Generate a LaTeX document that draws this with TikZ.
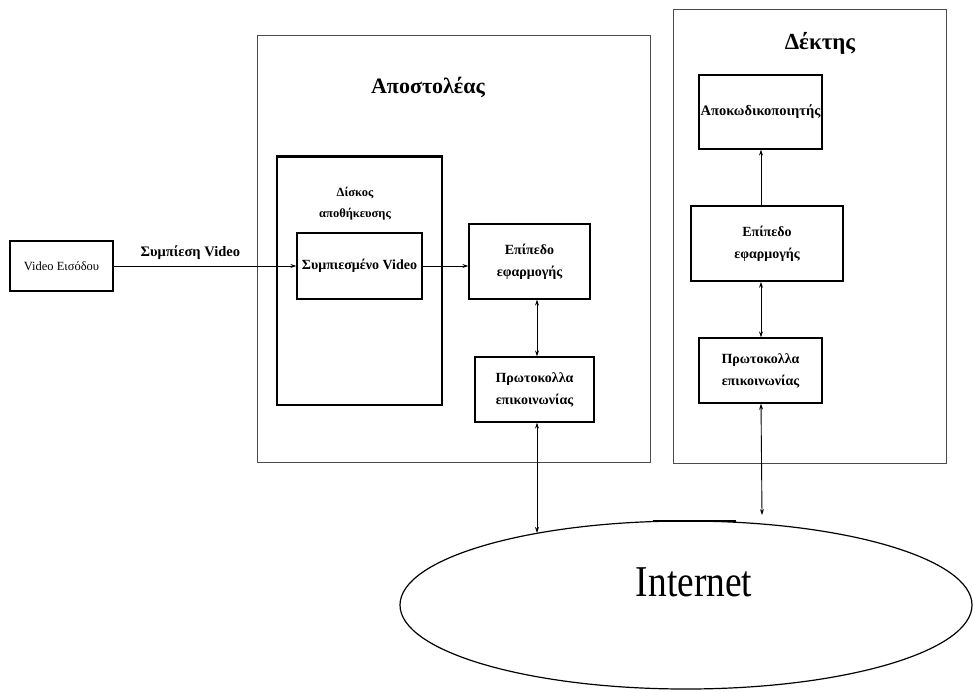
\documentclass[tikz,border=0pt]{standalone}
\usepackage{fontspec}
\setmainfont{Liberation Serif}
\usetikzlibrary{arrows.meta,shapes.geometric}
\begin{document}
\begin{tikzpicture}[x=1pt,y=-1pt,
  box/.style={draw=black,line width=1.3pt,rectangle,inner sep=0pt,align=center},
  frame/.style={draw=black!70,line width=1pt,rectangle,inner sep=0pt},
  lbl/.style={font=\fontsize{14}{22}\selectfont\bfseries,align=center},
  title/.style={font=\fontsize{22}{26}\selectfont\bfseries},
  tip/.tip={Stealth[length=6pt,width=4pt]},
  arr/.style={line width=0.9pt,-tip},
  conn/.style={line width=0.9pt,tip-tip}]
\useasboundingbox (0,0) rectangle (973,691);

% left input
\node[box, minimum width=103pt, minimum height=50pt, font=\fontsize{12.5}{15}\selectfont] (vin) at (61.5,266) {Video Εισόδου};

% sender
\node[frame, minimum width=393pt, minimum height=427pt] (snd) at (453.5,248.5) {};
\node[title] (sndt) at (428,87) {Αποστολέας};
\node[box, line width=1.1pt, minimum width=165pt, minimum height=248pt] (disk) at (359.5,281) {};
\draw[line width=2.6pt] (disk.north west) -- (disk.north east);
\node[lbl, font=\fontsize{12.5}{21}\selectfont\bfseries] (diskt) at (355,204) {Δίσκος\\αποθήκευσης};
\node[box, lbl, minimum width=125pt, minimum height=66pt] (comp) at (359.5,266) {Συμπιεσμένο Video};
\node[box, lbl, minimum width=121pt, minimum height=75pt] (app1) at (529.5,261.5) {Επίπεδο\\εφαρμογής};
\node[box, lbl, minimum width=119pt, minimum height=65pt] (proto1) at (534.5,389.5) {Πρωτοκολλα\\επικοινωνίας};

% receiver
\node[frame, minimum width=273pt, minimum height=454pt] (rcv) at (809.5,236) {};
\node[title, font=\fontsize{23}{26}\selectfont\bfseries] (rcvt) at (820,43) {Δέκτης};
\node[box, font=\fontsize{14.5}{17}\selectfont\bfseries, minimum width=123pt, minimum height=74pt] (dec) at (760.5,112) {Αποκωδικοποιητής};
\node[box, lbl, line width=1.8pt, minimum width=152pt, minimum height=75pt] (app2) at (767,243.5) {Επίπεδο\\εφαρμογής};
\node[box, lbl, minimum width=123pt, minimum height=65pt] (proto2) at (760.5,370.5) {Πρωτοκολλα\\επικοινωνίας};

% internet
\node[ellipse, draw=black, line width=1.2pt, inner sep=0pt, minimum width=572pt, minimum height=168pt] (inet) at (686,605) {};
\draw[line width=2.4pt] (653,521) -- (736,521);
\node[anchor=base, font=\fontsize{44}{50}\selectfont] (inett) at (694,596) {\scalebox{0.85}[1]{Internet}};

% helper coordinates
\coordinate (cs) at (537,0);
\coordinate (cr) at (761,0);
\coordinate (ns) at (537,533);
\coordinate (nr) at (762,515);

% connectors
\draw[arr] (vin.east) -- (comp.west)
  node[pos=0.42, anchor=south, yshift=3pt, font=\fontsize{14.5}{16}\selectfont\bfseries] (clbl) {Συμπίεση Video};
\draw[arr] (comp.east) -- (comp.east -| app1.west);
\draw[conn] (app1.south -| cs) -- (proto1.north -| cs);
\draw[conn] (proto1.south -| cs) -- (ns);
\draw[arr] (app2.north -| cr) -- (dec.south -| cr);
\draw[conn] (app2.south -| cr) -- (proto2.north -| cr);
\draw[conn] (proto2.south -| cr) -- (nr);
\end{tikzpicture}
\end{document}
